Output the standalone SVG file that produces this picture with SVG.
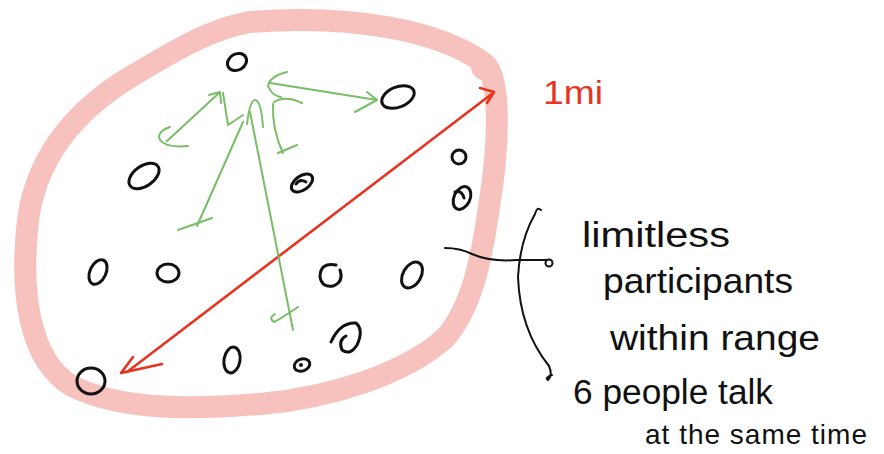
<svg xmlns="http://www.w3.org/2000/svg" width="884" height="454" viewBox="0 0 884 454">
<style>
.ring{fill:none;stroke:#f7c2be;stroke-width:22;stroke-linejoin:round;stroke-linecap:round}
.p{fill:none;stroke:#111;stroke-width:3;stroke-linecap:round;stroke-linejoin:round}
.g{fill:none;stroke:#79bd67;stroke-width:2;stroke-linecap:round;stroke-linejoin:round}
.r{fill:none;stroke:#e8341f;stroke-width:2.6;stroke-linecap:round;stroke-linejoin:round}
.k{fill:none;stroke:#111;stroke-width:2;stroke-linecap:round;stroke-linejoin:round}
.t{font-family:"Liberation Sans",Arial,sans-serif;fill:#111;font-size:35px}
.ts{font-family:"Liberation Sans",Arial,sans-serif;fill:#111;font-size:28px;letter-spacing:1px}
.tr{font-family:"Liberation Sans",Arial,sans-serif;fill:#e8341f;font-size:34px}
</style>
<rect width="884" height="454" fill="#fff"/>
<g id="range">
<path class="ring" d="M250 22 C350 14 440 30 485 64 C502 80 498 150 490 200 C482 258 472 308 445 338 C405 374 330 398 260 404 C190 410 120 410 72 386 C28 360 20 290 28 220 C36 160 72 112 132 76 C172 52 212 28 250 22 Z"/>
<circle cx="484" cy="67" r="13" fill="#f7c2be"/>
</g>
<g id="connectors">
<g id="distance">
<path class="r" d="M493 93 Q300 240 127 372"/>
<path class="r" d="M480 88 L494 92 L487 103"/>
<path class="r" d="M133 357 L121 373 L162 364"/>
</g>
<g id="talk">
<path class="g" d="M167 141 L219 93"/>
<path class="g" d="M209 95 L220 92 L221 103"/>
<path class="g" d="M170 127 Q156 132 160 140 Q166 148 188 146"/>
<path class="g" d="M223 93 L228 125 L243 115"/>
<path class="g" d="M247 124 Q250 100 255 100 Q261 100 263 127"/>
<path class="g" d="M243 122 L197 226"/>
<path class="g" d="M178 230 L212 218"/>
<path class="g" d="M250 112 L293 330"/>
<path class="g" d="M275 314 Q268 318 274 322 Q282 318 298 307"/>
<path class="g" d="M273 104 Q272 130 283 153"/>
<path class="g" d="M278 153 L297 145"/>
<path class="g" d="M274 102 Q285 95 302 103"/>
<path class="g" d="M270 83 L377 100"/>
<path class="g" d="M367 92 L377 100 L355 112"/>
<path class="g" d="M287 72 Q270 76 268 86 Q272 96 281 97"/>
</g>
<g id="callout">
<path class="k" d="M445 248 Q460 248 472 254 Q490 262 517 260 L547 260"/>
<circle class="k" cx="549" cy="263" r="3.5"/>
<path class="k" d="M541 210 Q537 206 535 214 Q520 240 518 277 Q520 330 549 366"/>
<path class="k" d="M549 366 Q553 375 548 380 Q544 378 552 375"/>
</g>
</g>
<g id="people">
<g id="p1"><ellipse class="p" cx="237" cy="62" rx="10" ry="8" transform="rotate(-30 237 62)"/></g>
<g id="p2"><ellipse class="p" cx="398" cy="97" rx="17" ry="10" transform="rotate(-22 398 97)"/></g>
<g id="p3"><ellipse class="p" cx="144" cy="176" rx="17" ry="10" transform="rotate(-35 144 176)"/></g>
<g id="p4"><ellipse class="p" cx="302" cy="183" rx="12" ry="7" transform="rotate(-35 302 183)"/><path class="p" d="M296 184 Q300 178 306 182"/></g>
<g id="p5"><ellipse class="p" cx="459" cy="157" rx="7" ry="7"/></g>
<g id="p6"><ellipse class="p" cx="462" cy="198" rx="8" ry="12" transform="rotate(25 462 198)"/><path class="p" d="M455 192 Q462 190 464 198"/></g>
<g id="p7"><ellipse class="p" cx="98" cy="272" rx="8" ry="13" transform="rotate(25 98 272)"/></g>
<g id="p8"><ellipse class="p" cx="168" cy="273" rx="11" ry="9"/></g>
<g id="p9"><path class="p" d="M336 265 Q320 262 320 277 Q322 288 333 286 Q344 282 340 270"/></g>
<g id="p10"><ellipse class="p" cx="412" cy="275" rx="9" ry="14" transform="rotate(30 412 275)"/></g>
<g id="p11"><path class="p" d="M331 342 Q340 322 356 323 Q364 330 357 345 Q350 356 342 350 Q338 340 346 336"/></g>
<g id="p12"><ellipse class="p" cx="232" cy="360" rx="8" ry="13" transform="rotate(10 232 360)"/></g>
<g id="p13"><ellipse class="p" cx="302" cy="365" rx="8" ry="6" transform="rotate(-20 302 365)"/><circle cx="301" cy="365" r="2" fill="#111"/></g>
<g id="p14"><ellipse class="p" cx="91" cy="381" rx="14" ry="13"/></g>
</g>
<g id="labels">
<text class="tr" x="543" y="104" textLength="60" lengthAdjust="spacingAndGlyphs">1mi</text>
<text class="t" x="582" y="247" textLength="148" lengthAdjust="spacingAndGlyphs">limitless</text>
<text class="t" x="603" y="293" textLength="190" lengthAdjust="spacingAndGlyphs">participants</text>
<text class="t" x="610" y="350" textLength="210" lengthAdjust="spacingAndGlyphs">within range</text>
<text class="t" x="573" y="404" textLength="200" lengthAdjust="spacingAndGlyphs">6 people talk</text>
<text class="ts" x="645" y="444">at the same time</text>
</g>
</svg>
